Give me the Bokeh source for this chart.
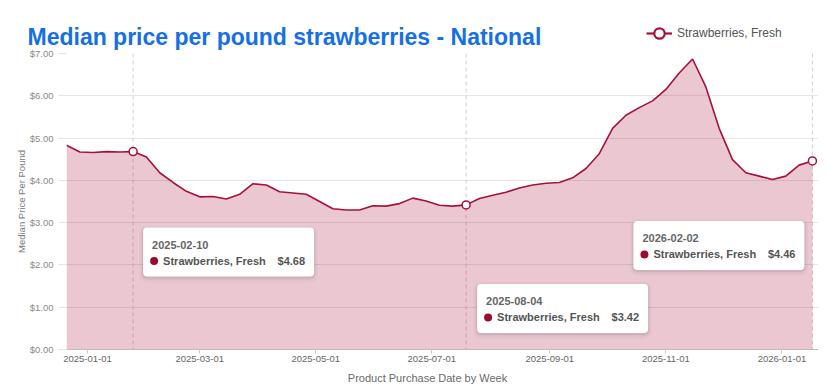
import pandas as pd
from bokeh.plotting import figure
from bokeh.models import (Range1d, FixedTicker, NumeralTickFormatter, DatetimeTickFormatter,
                          Span, Label, BoxAnnotation, Legend, LegendItem, ColumnDataSource)
from bokeh.embed import file_html
from bokeh.resources import INLINE

# ---------------- data ----------------
TITLE = "Median price per pound strawberries - National"
SERIES_NAME = "Strawberries, Fresh"
X_LABEL = "Product Purchase Date by Week"
Y_LABEL = "Median Price Per Pound"
WEEK_START = "2024-12-21"
PRICES = [4.83, 4.67, 4.66, 4.68, 4.67, 4.68, 4.55, 4.18, 3.95, 3.74,
          3.61, 3.62, 3.56, 3.67, 3.92, 3.89, 3.73, 3.70, 3.67, 3.50,
          3.33, 3.30, 3.30, 3.40, 3.39, 3.45, 3.58, 3.51, 3.41, 3.39,
          3.42, 3.57, 3.65, 3.72, 3.82, 3.89, 3.93, 3.95, 4.06, 4.28,
          4.63, 5.23, 5.54, 5.72, 5.88, 6.15, 6.54, 6.87, 6.21, 5.23,
          4.49, 4.18, 4.10, 4.02, 4.10, 4.36, 4.46]
HIGHLIGHT_IDX = [5, 30, 56]
HIGHLIGHT_DATES = ["2025-02-10", "2025-08-04", "2026-02-02"]
X_TICKS = ["2025-01-01", "2025-03-01", "2025-05-01", "2025-07-01",
           "2025-09-01", "2025-11-01", "2026-01-01"]
Y_TICKS = [0, 1, 2, 3, 4, 5, 6, 7]

# ---------------- style / layout ----------------
CRIMSON = "#a8103a"
BLUE = "#1570e6"
FONT = "Liberation Sans"
W = 818
HEADER_H = 53
FOOTER_TOP, FOOTER_H = 360, 30
FW, FH = 752, 296
BL, BT, BB = 66, 53, 41
YMAX = Y_TICKS[-1]
BASE_SHIFT = 0.35             # em: correction for where the text baseline lands
TITLE_POS = (27, 45)          # header px: left, baseline
TITLE_SIZE = 23
LEGEND_POS = (646, 5)         # header px: left, bottom offset
XLABEL_POS = (427, 381)       # page px: centre, baseline
XLABEL_SIZE = 11
TIP_SIZE = 11
# tooltip box offsets (px) of top-left corner relative to the highlighted point
TIP_OFFSETS = [(10, 76), (11, 79), (-179, 60)]
TIP_W, TIP_H = 171, 49

dates = pd.date_range(WEEK_START, periods=len(PRICES), freq="7D")


def to_ms(ts):
    return pd.Timestamp(ts).value / 1e6


x0_ms = to_ms(dates[0])
x1_ms = to_ms(dates[-1] + pd.Timedelta(days=3.2))


def px_to_x(px):  # px from frame left
    return x0_ms + (x1_ms - x0_ms) * px / FW


def px_to_y(py_down):  # px down from frame top
    return YMAX * (FH - py_down) / FH


def x_to_px(ms):
    return (ms - x0_ms) / (x1_ms - x0_ms) * FW


def y_to_pxdown(v):
    return FH - v / YMAX * FH


src = ColumnDataSource(data=dict(x=dates, y=PRICES))
hl_src = ColumnDataSource(data=dict(x=[dates[i] for i in HIGHLIGHT_IDX],
                                    y=[PRICES[i] for i in HIGHLIGHT_IDX]))

# ---------------- main chart ----------------
p = figure(width=W, height=BT + FH + BB, x_axis_type="datetime",
           x_range=Range1d(x0_ms, x1_ms), y_range=Range1d(0, YMAX),
           output_backend="svg", toolbar_location=None,
           min_border_left=BL, min_border_top=BT, min_border_right=0, min_border_bottom=BB)
p.title.visible = False
p.outline_line_color = None

# grid
p.xgrid.visible = False
p.ygrid.ticker = FixedTicker(ticks=Y_TICKS)
p.ygrid.grid_line_color = "#e6e6e6"
p.ygrid.grid_line_width = 1

# y axis
p.yaxis.ticker = FixedTicker(ticks=Y_TICKS)
p.yaxis.formatter = NumeralTickFormatter(format="$0.00")
p.yaxis.axis_line_color = None
p.yaxis.major_tick_out = 8
p.yaxis.major_tick_in = 0
p.yaxis.major_tick_line_color = "#e3e3e3"
p.yaxis.minor_tick_line_color = None
p.yaxis.major_label_standoff = 5
p.yaxis.major_label_text_font = FONT
p.yaxis.major_label_text_font_size = "9.5px"
p.yaxis.major_label_text_color = "#8a8a8a"
p.yaxis.axis_label = Y_LABEL
p.yaxis.axis_label_text_font = FONT
p.yaxis.axis_label_text_font_size = "9.5px"
p.yaxis.axis_label_text_font_style = "normal"
p.yaxis.axis_label_text_color = "#7a7a7a"
p.yaxis.axis_label_standoff = 0

# x axis
fmt = "%Y-%m-%d"
p.xaxis.ticker = FixedTicker(ticks=[to_ms(t) for t in X_TICKS])
p.xaxis.formatter = DatetimeTickFormatter(days=fmt, months=fmt, years=fmt, hours=fmt,
                                          hourmin=fmt, minutes=fmt, minsec=fmt,
                                          seconds=fmt, milliseconds=fmt, microseconds=fmt)
p.xaxis.axis_line_color = "#c4b8bc"
p.xaxis.major_tick_out = 4
p.xaxis.major_tick_in = 0
p.xaxis.major_tick_line_color = "#c8c8c8"
p.xaxis.minor_tick_line_color = None
p.xaxis.major_label_standoff = 2
p.xaxis.major_label_text_font = FONT
p.xaxis.major_label_text_font_size = "9.5px"
p.xaxis.major_label_text_color = "#666666"

# dashed guide lines at highlighted points
for i in HIGHLIGHT_IDX:
    p.add_layout(Span(location=to_ms(dates[i]), dimension="height", line_color="#cfcfcf",
                      line_width=1, line_dash="4 3", level="underlay"))

# series
p.varea(x="x", y1=0, y2="y", source=src, fill_color=CRIMSON, fill_alpha=0.23)
p.line("x", "y", source=src, line_color=CRIMSON, line_width=1.6)
p.scatter("x", "y", source=hl_src, size=8, marker="circle", fill_color="white",
          line_color=CRIMSON, line_width=1.5)

# tooltips
tip_shift = BASE_SHIFT * TIP_SIZE
for i, tip_date, (dx, dy) in zip(HIGHLIGHT_IDX, HIGHLIGHT_DATES, TIP_OFFSETS):
    ax = x_to_px(to_ms(dates[i]))
    ay = y_to_pxdown(PRICES[i])
    left, top = ax + dx, ay + dy
    right, bottom = left + TIP_W, top + TIP_H
    for grow, shift, alpha in [(4, 2, 0.025), (2, 1.5, 0.04), (1, 1, 0.06)]:
        p.add_layout(BoxAnnotation(left=px_to_x(left - grow), right=px_to_x(right + grow),
                                   top=px_to_y(top - grow + shift),
                                   bottom=px_to_y(bottom + grow + shift),
                                   fill_color="black", fill_alpha=alpha, line_color=None,
                                   border_radius=int(4 + grow)))
    p.add_layout(BoxAnnotation(left=px_to_x(left), right=px_to_x(right),
                               top=px_to_y(top), bottom=px_to_y(bottom),
                               fill_color="white", fill_alpha=1, line_color=None,
                               border_radius=4))
    p.add_layout(BoxAnnotation(left=px_to_x(left + 7), right=px_to_x(left + 15),
                               top=px_to_y(top + 29.5), bottom=px_to_y(top + 37.5),
                               fill_color="#9b0a2e", fill_alpha=1, line_color=None,
                               border_radius=4))
    p.add_layout(Label(x=px_to_x(left + 9), y=px_to_y(top + 21 - tip_shift), text=tip_date,
                       text_font=FONT, text_font_size=f"{TIP_SIZE}px", text_font_style="bold",
                       text_color="#666666", text_baseline="alphabetic"))
    p.add_layout(Label(x=px_to_x(left + 20), y=px_to_y(top + 37 - tip_shift), text=SERIES_NAME,
                       text_font=FONT, text_font_size=f"{TIP_SIZE}px", text_font_style="bold",
                       text_color="#555555", text_baseline="alphabetic"))
    p.add_layout(Label(x=px_to_x(right - 9), y=px_to_y(top + 37 - tip_shift),
                       text="${:.2f}".format(PRICES[i]),
                       text_font=FONT, text_font_size=f"{TIP_SIZE}px", text_font_style="bold",
                       text_color="#555555", text_baseline="alphabetic", text_align="right"))


def overlay_figure(height, top):
    f = figure(width=W, height=height, x_range=Range1d(0, W), y_range=Range1d(height, 0),
               output_backend="svg", toolbar_location=None,
               x_axis_location=None, y_axis_location=None,
               min_border=0, min_border_left=0, min_border_right=0,
               min_border_top=0, min_border_bottom=0)
    f.styles = {"position": "absolute", "top": f"{top}px", "left": "0px", "z-index": "10"}
    f.title.visible = False
    f.outline_line_color = None
    f.grid.visible = False
    f.background_fill_alpha = 0
    f.border_fill_alpha = 0
    return f


# ---------------- header (title + legend), overlaid on the main chart's top border ----------------
hdr = overlay_figure(HEADER_H, 0)
hdr.add_layout(Label(x=TITLE_POS[0], y=TITLE_POS[1] - BASE_SHIFT * TITLE_SIZE, text=TITLE,
                     text_font=FONT, text_font_size=f"{TITLE_SIZE}px", text_font_style="bold",
                     text_color=BLUE, text_baseline="alphabetic", text_align="left"))
# the series drawn in the header fall outside its range; they only feed the legend glyph
leg_line = hdr.line("x", "y", source=src, line_color=CRIMSON, line_width=2.2)
leg_mark = hdr.scatter("x", "y", source=hl_src, marker="circle", fill_color="white",
                       line_color=CRIMSON, line_width=2.2)
legend = Legend(items=[LegendItem(label=SERIES_NAME, renderers=[leg_line, leg_mark])],
                location=LEGEND_POS, orientation="horizontal",
                border_line_color=None, background_fill_alpha=0, padding=0, margin=0,
                glyph_width=26, glyph_height=30, label_standoff=5,
                label_text_font=FONT, label_text_font_size="12px", label_text_color="#555555")
hdr.add_layout(legend)

# ---------------- footer (x axis title), overlaid on the main chart's bottom border ----------------
ftr = overlay_figure(FOOTER_H, FOOTER_TOP)
ftr.add_layout(Label(x=XLABEL_POS[0], y=XLABEL_POS[1] - FOOTER_TOP - BASE_SHIFT * XLABEL_SIZE,
                     text=X_LABEL, text_font=FONT, text_font_size=f"{XLABEL_SIZE}px",
                     text_color="#6a6a6a", text_baseline="alphabetic", text_align="center"))

html = file_html([p, hdr, ftr], INLINE, title=TITLE)
open("out.html", "w").write(html)
